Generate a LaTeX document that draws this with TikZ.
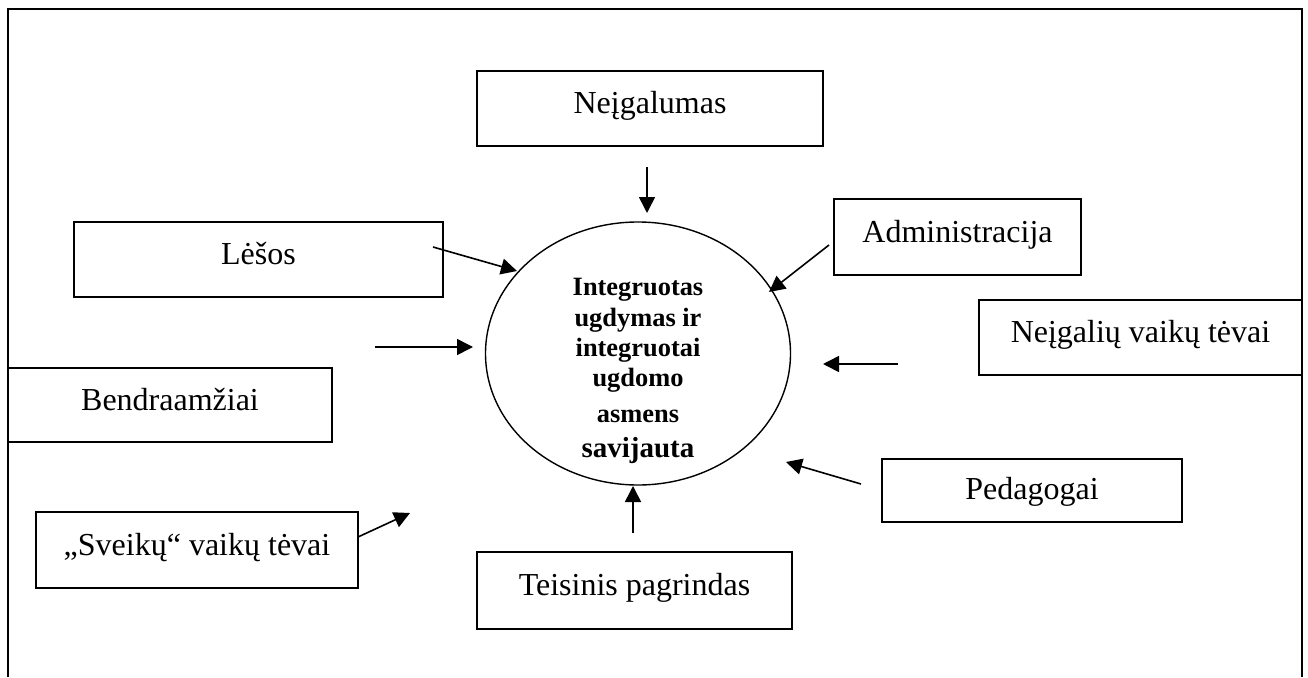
\documentclass[tikz,border=0pt]{standalone}
\usepackage{fontspec}
\setmainfont{Liberation Serif}
\usetikzlibrary{shapes.geometric,arrows.meta}

\begin{document}
\begin{tikzpicture}[x=1pt, y=-1pt, every node/.style={font=\fontsize{32}{37}\selectfont},
	factor/.style={draw, line width=1.6pt, inner sep=0pt, text height=22pt, text depth=12pt},
	feed/.style={line width=1.6pt, -{Triangle[length=16pt, width=16pt]}}]
	\useasboundingbox (0,0) rectangle (1308,677);
	\draw[line width=2.8pt] (8,677) -- (8,9) -- (1302,9) -- (1302,677);
	\node[factor, minimum width=346pt, minimum height=75pt] (negal) at (650,108.5) {Neįgalumas};
	\node[factor, minimum width=369pt, minimum height=75pt] (lesos) at (258.5,259.5) {Lėšos};
	\node[factor, minimum width=247pt, minimum height=76pt] (admin) at (957.5,237) {Administracija};
	\node[factor, minimum width=323pt, minimum height=75pt] (tevai) at (1140.5,337.5) {Neįgalių vaikų tėvai};
	\node[factor, minimum width=324pt, minimum height=74pt] (bendr) at (170,405) {Bendraamžiai};
	\node[factor, minimum width=300pt, minimum height=63pt, text depth=5pt] (pedag) at (1032,490.5) {Pedagogai};
	\node[factor, minimum width=322pt, minimum height=76pt] (sveik) at (197,550) {„Sveikų“ vaikų tėvai};
	\node[factor, minimum width=315pt, minimum height=77pt] (teis) at (634.5,590.5) {Teisinis pagrindas};
	\node[ellipse, draw, line width=1.4pt, minimum width=305pt, minimum height=263pt, inner sep=0pt] (core) at (638,353.5) {};
	\node[font=\fontsize{26.4}{30.3}\selectfont\bfseries, align=center] (coretext) at (638,371) {Integruotas\\ugdymas ir\\integruotai\\ugdomo\\[5.7pt]asmens\\[4pt]{\fontsize{29}{33}\selectfont savijauta}};
	\coordinate (negal-from) at (647,167);
	\coordinate (negal-to) at (647,213);
	\coordinate (lesos-from) at (433,247);
	\coordinate (lesos-to) at (517,271);
	\coordinate (admin-from) at (829,245);
	\coordinate (admin-to) at (769,292);
	\coordinate (bendr-from) at (375,347);
	\coordinate (bendr-to) at (473,347);
	\coordinate (tevai-from) at (898,364);
	\coordinate (tevai-to) at (823,364);
	\coordinate (pedag-from) at (861,484);
	\coordinate (pedag-to) at (786,462);
	\coordinate (teis-from) at (633,533);
	\coordinate (teis-to) at (633,486);
	\coordinate (sveik-from) at (358,537);
	\coordinate (sveik-to) at (410,513);
	\foreach \f in {negal,lesos,admin,bendr,tevai,pedag,teis,sveik}
		\draw[feed] (\f-from) -- (\f-to);
\end{tikzpicture}
\end{document}
